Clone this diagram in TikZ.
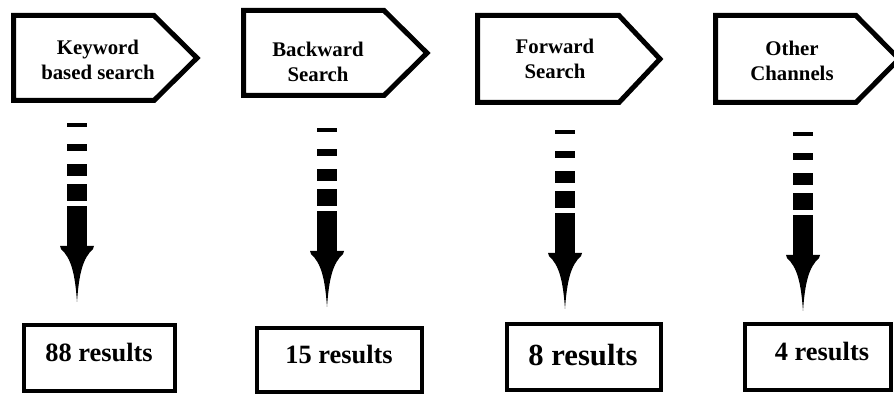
\documentclass[tikz,border=0pt]{standalone}
\usepackage{fontspec}
\setmainfont{Liberation Serif}
\begin{document}
\begin{tikzpicture}[x=0.75pt,y=-0.75pt,
  penta/.style={draw=black,line width=3.75pt,line join=miter,fill=white},
  labeltext/.style={font=\bfseries\fontsize{15.6pt}{19pt}\selectfont,align=center,inner sep=0pt},
  resbox/.style={draw=black,line width=3pt,fill=white,inner sep=0pt},
  restext/.style={font=\bfseries\fontsize{19.8pt}{22pt}\selectfont,inner sep=0pt},
  dasharrow/.pic={
    \fill (-10,0) rectangle (10,4);
    \fill (-10,21) rectangle (10,28);
    \fill (-10,41) rectangle (10,53);
    \fill (-10,61) rectangle (10,78);
    \fill (-10,83) rectangle (10,125);
    \fill (-17,123) -- (17,123) -- (16,126) .. controls (6,135) and (2,150) .. (0,179)
          .. controls (-2,150) and (-6,135) .. (-16,126) -- cycle;
  }]
\useasboundingbox (0,0) rectangle (894,395);
\clip (0,0) rectangle (894,395);
\fill[white] (0,0) rectangle (894,395);

% source shapes
\draw[penta] (13.5,15.5) -- (154,15.5) -- (197,58) -- (154,100.5) -- (13.5,100.5) -- cycle;
\draw[penta] (243.5,10.5) -- (384,10.5) -- (427,53) -- (384,95.5) -- (243.5,95.5) -- cycle;
\draw[penta] (477.5,15.5) -- (619,15.5) -- (660,59) -- (619,102.5) -- (477.5,102.5) -- cycle;
\draw[penta] (715.5,15.5) -- (856,15.5) -- (899,59) -- (856,102.5) -- (715.5,102.5) -- cycle;

\node[labeltext] (s1) at (98,60) {Keyword\\based search};
\node[labeltext] (s2) at (318,62) {Backward\\Search};
\node[labeltext] (s3) at (555,59) {Forward\\Search};
\node[labeltext] (s4) at (792,61) {Other\\Channels};

% arrows
\coordinate (a1) at (77,123);
\coordinate (a2) at (327,128);
\coordinate (a3) at (565,130);
\coordinate (a4) at (803,132);
\pic at (a1) {dasharrow};
\pic at (a2) {dasharrow};
\pic at (a3) {dasharrow};
\pic at (a4) {dasharrow};

% result boxes
\node[resbox,minimum width=113.25pt,minimum height=49.5pt] (r1) at (99.5,358) {};
\node[resbox,minimum width=123.75pt,minimum height=48pt] (r2) at (339.5,360) {};
\node[resbox,minimum width=115.5pt,minimum height=49.5pt] (r3) at (584,357) {};
\node[resbox,minimum width=109.5pt,minimum height=49.5pt] (r4) at (818,357) {};

\node[restext] (t1) at (99,353) {88 results};
\node[restext] (t2) at (339,355) {15 results};
\node[restext,font=\bfseries\fontsize{23pt}{26pt}\selectfont] (t3) at (583,355) {8 results};
\node[restext] (t4) at (822,352) {4 results};
\end{tikzpicture}
\end{document}
